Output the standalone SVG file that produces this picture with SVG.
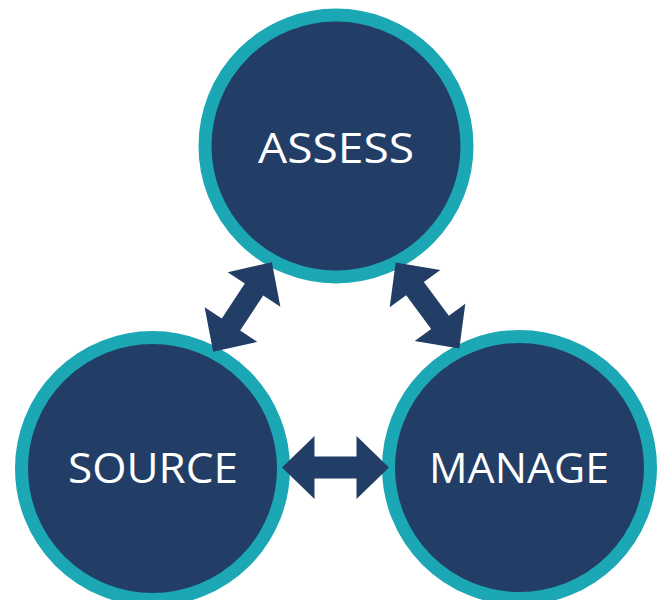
<svg xmlns="http://www.w3.org/2000/svg" width="664" height="600" viewBox="0 0 664 600">
<defs>
<style>
.ring{fill:#233e66;stroke:#1ba7b3;stroke-width:13}
.lbl{fill:#ffffff;font-family:"Open Sans","Liberation Sans",sans-serif;font-size:42px;font-weight:500;text-anchor:middle}
.arr{fill:#233e66}
</style>
<path id="dbl" d="M -53.5 0 L -21 -31.5 L -21 -11 L 21 -11 L 21 -31.5 L 53.5 0 L 21 31.5 L 21 11 L -21 11 L -21 31.5 Z"/>
</defs>
<rect width="664" height="600" fill="#ffffff"/>
<g id="assess">
<circle class="ring" cx="336" cy="146" r="131"/>
<text class="lbl" x="336" y="163" textLength="156" lengthAdjust="spacingAndGlyphs">ASSESS</text>
</g>
<g id="source">
<circle class="ring" cx="152.5" cy="468.5" r="131"/>
<text class="lbl" x="153" y="483" textLength="170" lengthAdjust="spacingAndGlyphs">SOURCE</text>
</g>
<g id="manage">
<circle class="ring" cx="519.5" cy="467.5" r="131"/>
<text class="lbl" x="519" y="483" textLength="180" lengthAdjust="spacingAndGlyphs">MANAGE</text>
</g>
<g id="connectors" class="arr">
<use href="#dbl" transform="translate(242.5 307) rotate(-56.7)"/>
<use href="#dbl" transform="translate(427.5 305.5) rotate(53.5)"/>
<use href="#dbl" transform="translate(335.5 467.5)"/>
</g>
</svg>
